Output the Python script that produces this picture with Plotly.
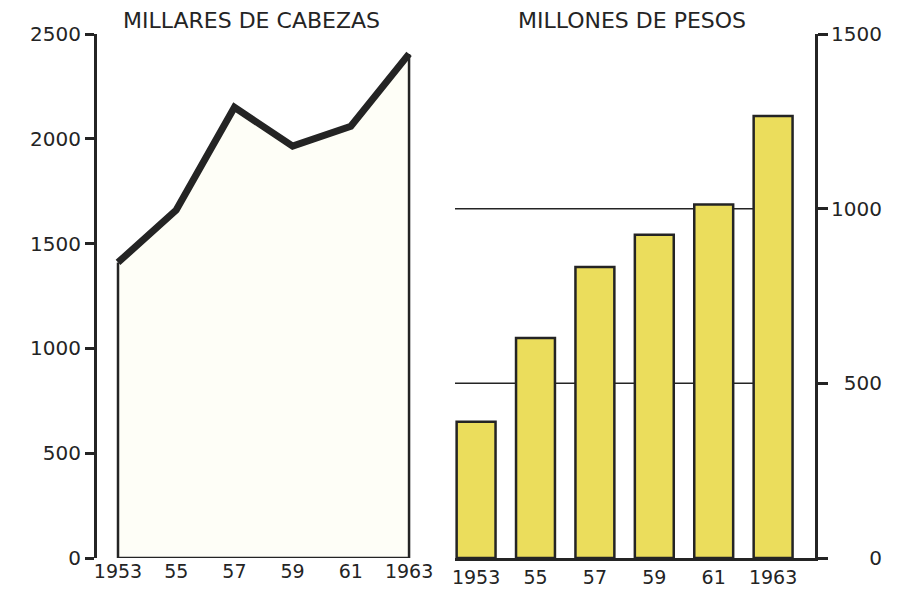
import plotly.graph_objects as go

# datos
anios = [1953, 1955, 1957, 1959, 1961, 1963]
etiquetas_anios = ["1953", "55", "57", "59", "61", "1963"]
cabezas = [1410, 1660, 2150, 1965, 2060, 2405]  # millares de cabezas
pesos = [390, 630, 833, 925, 1012, 1265]  # millones de pesos

ticks_cabezas = [0, 500, 1000, 1500, 2000, 2500]
ticks_pesos = [0, 500, 1000, 1500]
lineas_guia = [500, 1000]

# la página tiene 8 px de margen: el gráfico ocupa el resto de la ventana
OFF = 8
W, H = 897 - OFF, 590 - OFF
TINTA = "#242424"
AMARILLO = "#EBDD5C"
FUENTE = "DejaVu Sans"


def px_x(p):
    return (p - OFF) / W


def px_y(p):
    return 1 - (p - OFF) / H


X1_RANGO = [1952.278, 1963.72]
X2_RANGO = [1952.29, 1964.41]
Y_DOM = [px_y(558), px_y(34)]

fig = go.Figure()

# área y línea de existencias
fig.add_trace(go.Scatter(
    x=anios, y=cabezas, mode="lines", fill="tozeroy",
    fillcolor="#FEFEF7", line=dict(color=TINTA, width=7),
    xaxis="x", yaxis="y", hoverinfo="skip",
))
fig.add_trace(go.Scatter(
    x=[anios[-1], anios[-1], anios[0], anios[0]],
    y=[cabezas[-1], 0, 0, cabezas[0]],
    mode="lines", line=dict(color=TINTA, width=2.5),
    xaxis="x", yaxis="y", hoverinfo="skip",
))

# barras de valor
fig.add_trace(go.Bar(
    x=anios, y=pesos, width=1.31,
    marker=dict(color=AMARILLO, line=dict(color=TINTA, width=2.5)),
    xaxis="x2", yaxis="y2", hoverinfo="skip",
))
# traza invisible para el eje de etiquetas derecho
fig.add_trace(go.Scatter(
    x=anios, y=pesos, mode="markers", marker=dict(opacity=0),
    xaxis="x2", yaxis="y3", hoverinfo="skip",
))

for v in lineas_guia:
    fig.add_shape(
        type="line", xref="x2", yref="y2",
        x0=X2_RANGO[0], x1=anios[-1], y0=v, y1=v,
        line=dict(color=TINTA, width=1.5), layer="below",
    )

eje_comun = dict(showgrid=False, zeroline=False, color=TINTA, automargin=False,
                 tickfont=dict(family=FUENTE, size=20, color=TINTA))
fuente_x = dict(family=FUENTE, size=19, color=TINTA)

titulo = dict(xref="paper", yref="paper", showarrow=False, xanchor="center",
              yanchor="middle", font=dict(family=FUENTE, size=22, color=TINTA))

fig.update_layout(
    width=W, height=H,
    margin=dict(l=0, r=0, t=0, b=0, pad=0),
    paper_bgcolor="white", plot_bgcolor="rgba(0,0,0,0)",
    showlegend=False,
    font=dict(family=FUENTE, color=TINTA),
    xaxis=dict(
        eje_comun, domain=[px_x(97), px_x(430)], range=X1_RANGO, anchor="y",
        tickvals=anios, ticktext=etiquetas_anios, showline=False,
        ticks="", tickfont=fuente_x,
    ),
    yaxis=dict(
        eje_comun, domain=Y_DOM, range=[0, 2500], anchor="x",
        tickvals=ticks_cabezas, showline=True, linewidth=3, linecolor=TINTA,
        ticks="outside", ticklen=9, tickwidth=3, tickcolor=TINTA,
    ),
    xaxis2=dict(
        eje_comun, domain=[px_x(455), px_x(815)], range=X2_RANGO, anchor="y2",
        tickvals=anios, ticktext=etiquetas_anios, tickfont=fuente_x,
        showline=True, linewidth=3, linecolor=TINTA, ticks="",
    ),
    yaxis2=dict(
        eje_comun, domain=Y_DOM, range=[0, 1500], anchor="x2", side="right",
        tickvals=ticks_pesos, showticklabels=False,
        showline=True, linewidth=3, linecolor=TINTA,
        ticks="outside", ticklen=10, tickwidth=3, tickcolor=TINTA,
    ),
    yaxis3=dict(
        eje_comun, range=[0, 1500], overlaying="y2", side="left",
        anchor="free", position=px_x(882), tickvals=ticks_pesos,
        showline=False, ticks="",
    ),
    annotations=[
        dict(titulo, text="MILLARES DE CABEZAS", x=px_x(251), y=px_y(20)),
        dict(titulo, text="MILLONES DE PESOS", x=px_x(632), y=px_y(20)),
    ],
)

fig.write_html("out.html")
